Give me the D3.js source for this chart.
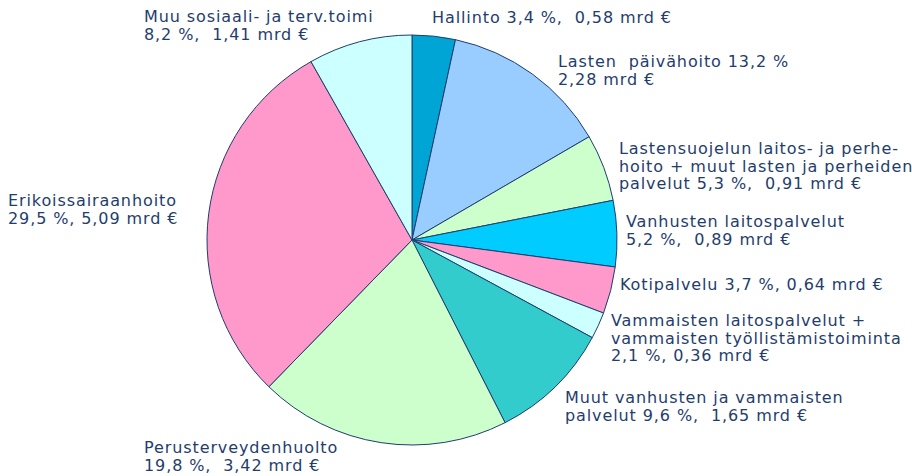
<!DOCTYPE html>
<html>
<head>
<meta charset="utf-8">
<script src="https://cdn.jsdelivr.net/npm/d3@7"></script>
<style>
	body { margin: 0; background: #fff; }
	text { font-family: "DejaVu Sans", Verdana, sans-serif; font-size: 16px; letter-spacing: 0.9px; fill: #1f3d6e; }
</style>
</head>
<body>
<div id="chart"></div>
<script>
// slices clockwise from 12 o'clock
var categories = [
	'Hallinto', 'Lasten päivähoito', 'Lastensuojelu', 'Vanhusten laitospalvelut',
	'Kotipalvelu', 'Vammaisten palvelut', 'Muut vanhusten ja vammaisten palvelut',
	'Perusterveydenhuolto', 'Erikoissairaanhoito', 'Muu sosiaali- ja terv.toimi'
];
var shares = [3.4, 13.2, 5.3, 5.2, 3.7, 2.1, 9.6, 19.8, 29.5, 8.2];
var colors = ['#00a5d6', '#99ccff', '#ccffcc', '#00ccff', '#ff99cc',
	'#ccffff', '#33cccc', '#ccffcc', '#ff99cc', '#ccffff'];

var labelLines = [
	['Hallinto 3,4 %,  0,58 mrd €'],
	['Lasten  päivähoito 13,2 %', '2,28 mrd €'],
	['Lastensuojelun laitos- ja perhe-', 'hoito + muut lasten ja perheiden', 'palvelut 5,3 %,  0,91 mrd €'],
	['Vanhusten laitospalvelut', '5,2 %,  0,89 mrd €'],
	['Kotipalvelu 3,7 %, 0,64 mrd €'],
	['Vammaisten laitospalvelut +', 'vammaisten työllistämistoiminta', '2,1 %, 0,36 mrd €'],
	['Muut vanhusten ja vammaisten', 'palvelut 9,6 %,  1,65 mrd €'],
	['Perusterveydenhuolto', '19,8 %,  3,42 mrd €'],
	['Erikoissairaanhoito', '29,5 %, 5,09 mrd €'],
	['Muu sosiaali- ja terv.toimi', '8,2 %,  1,41 mrd €']
];
// top-left anchor of each label block (x, first baseline)
var labelPos = [
	[432, 23], [558, 67], [619, 154], [626, 227], [620, 290],
	[611, 326], [565, 403], [144, 453], [8, 206], [144, 22]
];

var width = 912, height = 476,
	cx = 412, cy = 240, radius = 205, lineHeight = 17.5;

var svg = d3.select('#chart').append('svg')
	.attr('width', width)
	.attr('height', height);

var pie = d3.pie().sort(null).value(function(d) { return d; });
var arc = d3.arc().innerRadius(0).outerRadius(radius);

var g = svg.append('g').attr('transform', 'translate(' + cx + ',' + cy + ')');

g.selectAll('path')
	.data(pie(shares))
	.enter()
	.append('path')
	.attr('d', arc)
	.attr('fill', function(d, i) { return colors[i]; })
	.attr('stroke', '#1f3d6e')
	.attr('stroke-width', 1)
	.attr('stroke-linejoin', 'round');

var labels = svg.selectAll('text.label')
	.data(labelLines)
	.enter()
	.append('text')
	.attr('class', 'label')
	.attr('x', function(d, i) { return labelPos[i][0]; })
	.attr('y', function(d, i) { return labelPos[i][1]; })
	.attr('xml:space', 'preserve');

labels.selectAll('tspan')
	.data(function(d, i) { return d.map(function(t) { return { t: t, x: labelPos[i][0] }; }); })
	.enter()
	.append('tspan')
	.attr('x', function(d) { return d.x; })
	.attr('dy', function(d, j) { return j === 0 ? 0 : lineHeight; })
	.text(function(d) { return d.t; });
</script>
</body>
</html>
